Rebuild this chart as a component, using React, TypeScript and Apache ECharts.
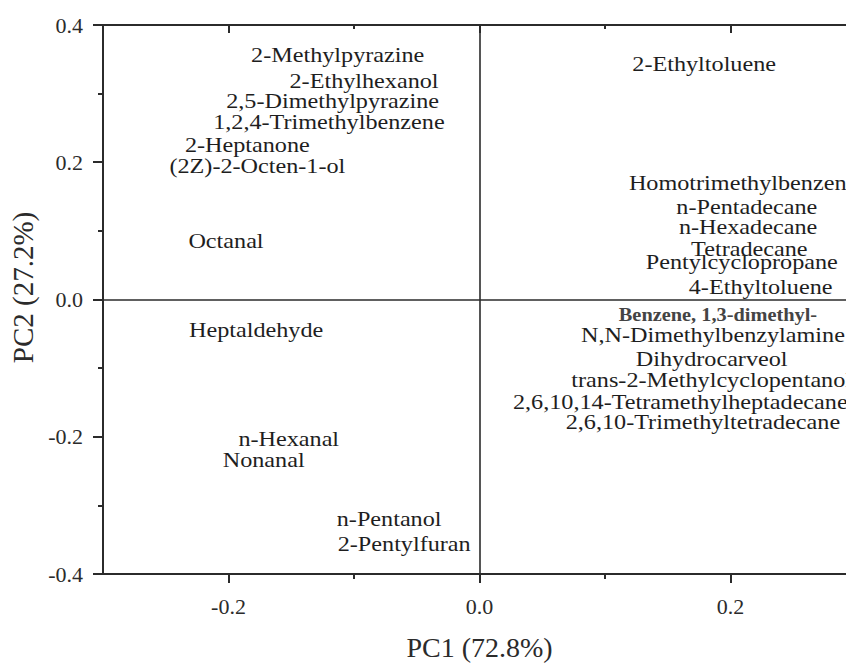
import React, { useEffect, useRef } from "react";
import * as echarts from "echarts";

// Loadings of the volatile compounds on the first two principal components
const compounds = [
  "2-Methylpyrazine",
  "2-Ethylhexanol",
  "2,5-Dimethylpyrazine",
  "1,2,4-Trimethylbenzene",
  "2-Heptanone",
  "(2Z)-2-Octen-1-ol",
  "Octanal",
  "Heptaldehyde",
  "n-Hexanal",
  "Nonanal",
  "n-Pentanol",
  "2-Pentylfuran",
  "2-Ethyltoluene",
  "Homotrimethylbenzene",
  "n-Pentadecane",
  "n-Hexadecane",
  "Tetradecane",
  "Pentylcyclopropane",
  "4-Ethyltoluene",
  "Benzene, 1,3-dimethyl-",
  "N,N-Dimethylbenzylamine",
  "Dihydrocarveol",
  "trans-2-Methylcyclopentanol",
  "2,6,10,14-Tetramethylheptadecane",
  "2,6,10-Trimethyltetradecane",
];

const pc1 = [
  -0.113, -0.092, -0.117, -0.120, -0.185, -0.177, -0.202, -0.178, -0.152, -0.172,
  -0.072, -0.060, 0.179, 0.210, 0.213, 0.214, 0.215, 0.209, 0.224, 0.190,
  0.186, 0.185, 0.185, 0.160, 0.178,
];

const pc2 = [
  0.357, 0.320, 0.290, 0.259, 0.226, 0.196, 0.086, -0.044, -0.203, -0.233,
  -0.319, -0.355, 0.344, 0.170, 0.135, 0.106, 0.075, 0.055, 0.019, -0.022,
  -0.051, -0.086, -0.116, -0.148, -0.177,
];

const xMajorTicks = [-0.2, 0, 0.2];
const xMinorTicks = [-0.1, 0.1, 0.3];
const yMajorTicks = [-0.4, -0.2, 0, 0.2, 0.4];
const yMinorTicks = [-0.3, -0.1, 0.1, 0.3];

const xTitle = "PC1 (72.8%)";
const yTitle = "PC2 (27.2%)";

const FONT = "Liberation Serif";
const INK = "#2b2b2b";

export default function App() {
  const ref = useRef<HTMLDivElement>(null);

  useEffect(() => {
    if (!ref.current) return;
    const chart = echarts.init(ref.current, undefined, { renderer: "svg" });

    const points = compounds.map((name, i) => [pc1[i], pc2[i], name]);
    const fmt = (v: number) => v.toFixed(1);
    const baseX = { type: "value", min: -0.3, max: 0.3, interval: 0.1, splitLine: { show: false } };
    const baseY = { type: "value", min: -0.4, max: 0.4, interval: 0.1, splitLine: { show: false } };
    const frame = { show: true, onZero: false, lineStyle: { color: INK, width: 2 } };
    const hidden = { show: false, onZero: false };
    const tickStyle = { color: INK, width: 2 };

    chart.setOption({
      animation: false,
      backgroundColor: "#ffffff",
      grid: { left: 103, top: 25, width: 753, height: 553 },
      xAxis: [
        {
          ...baseX,
          position: "bottom",
          name: xTitle,
          nameLocation: "middle",
          nameGap: 59,
          nameTextStyle: { fontFamily: FONT, fontSize: 28, color: INK },
          axisLine: frame,
          axisTick: { show: true, customValues: xMajorTicks, length: 9, lineStyle: tickStyle },
          axisLabel: {
            customValues: xMajorTicks,
            formatter: fmt,
            margin: 21,
            fontFamily: FONT,
            fontSize: 22,
            color: INK,
          },
        },
        {
          ...baseX,
          position: "bottom",
          axisLine: hidden,
          axisTick: { show: true, customValues: xMinorTicks, length: 5, lineStyle: tickStyle },
          axisLabel: { show: false },
        },
        {
          ...baseX,
          position: "top",
          axisLine: frame,
          axisTick: { show: true, inside: true, customValues: xMajorTicks, length: 8, lineStyle: tickStyle },
          axisLabel: { show: false },
        },
        {
          ...baseX,
          position: "top",
          axisLine: hidden,
          axisTick: { show: true, inside: true, customValues: xMinorTicks, length: 4, lineStyle: tickStyle },
          axisLabel: { show: false },
        },
      ],
      yAxis: [
        {
          ...baseY,
          position: "left",
          name: yTitle,
          nameLocation: "middle",
          nameGap: 63,
          nameTextStyle: { fontFamily: FONT, fontSize: 29, color: INK, padding: [0, 0, 0, 24] },
          axisLine: frame,
          axisTick: { show: true, customValues: yMajorTicks, length: 10, lineStyle: tickStyle },
          axisLabel: {
            customValues: yMajorTicks,
            formatter: fmt,
            margin: 20,
            fontFamily: FONT,
            fontSize: 22,
            color: INK,
          },
        },
        {
          ...baseY,
          position: "left",
          axisLine: hidden,
          axisTick: { show: true, customValues: yMinorTicks, length: 5, lineStyle: tickStyle },
          axisLabel: { show: false },
        },
      ],
      series: [
        {
          type: "custom",
          xAxisIndex: 0,
          yAxisIndex: 0,
          data: points,
          clip: false,
          renderItem: (params: any, api: any) => {
            const p = api.coord([api.value(0), api.value(1)]);
            const name = compounds[params.dataIndex];
            const heavy = name.startsWith("Benzene");
            return {
              type: "text",
              x: p[0],
              y: p[1],
              scaleX: 1.1,
              style: {
                text: name,
                fontFamily: FONT,
                fontSize: heavy ? 18.5 : 22,
                fontWeight: heavy ? "bold" : "normal",
                fill: heavy ? "#444444" : "#1e1e1e",
                align: "center",
                verticalAlign: "middle",
              },
            };
          },
          markLine: {
            silent: true,
            symbol: "none",
            label: { show: false },
            lineStyle: { color: INK, width: 1.6, type: "solid" },
            data: [{ xAxis: 0 }, { yAxis: 0 }],
          },
        },
      ],
    });

    return () => chart.dispose();
  }, []);

  return (
    <div
      style={{
        position: "fixed",
        left: 0,
        top: 0,
        width: 846,
        height: 666,
        overflow: "hidden",
        background: "#ffffff",
      }}
    >
      <div ref={ref} style={{ width: 900, height: 666 }} />
    </div>
  );
}
